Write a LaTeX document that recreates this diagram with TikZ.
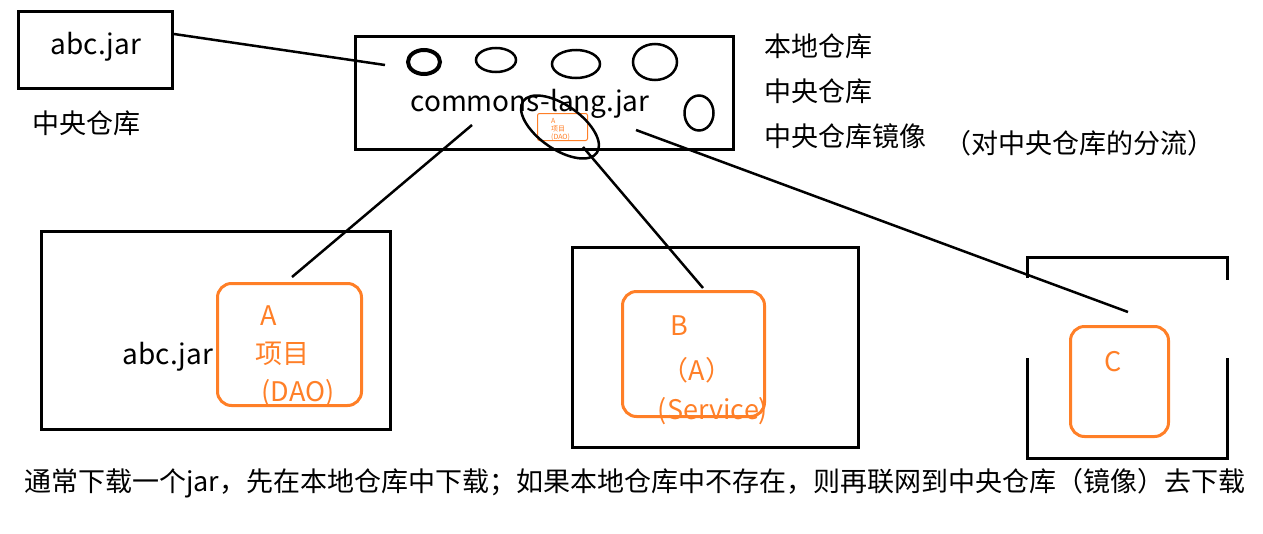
\documentclass[tikz,border=0pt]{standalone}
\usepackage{fontspec}
\usetikzlibrary{shapes.geometric}
\setmainfont{Noto Sans CJK SC}
\definecolor{orng}{RGB}{255,127,39}
\begin{document}
\begin{tikzpicture}[x=1pt,y=-1pt,
  box/.style={draw=black,line width=3pt},
  obox/.style={draw=orng,line width=3pt,rounded corners=14pt},
  lnk/.style={draw=black,line width=2.5pt},
  txt/.style={font=\fontsize{27}{31}\selectfont,inner sep=0pt},
  ltxt/.style={font=\fontsize{28}{32}\selectfont,inner sep=0pt},
  otxt/.style={txt,text=orng},
  ell/.style={draw=black,line width=2.5pt}]
\useasboundingbox (0,0) rectangle (1263,533);
% top-left box
\node[box,minimum width=154pt,minimum height=77pt,anchor=north west] (abc) at (17,10) {};
\node[ltxt] (abct) at (96,47) {abc.jar};
\node[txt] (zy) at (86,123) {中央仓库};
% central repository box
\node[box,minimum width=378pt,minimum height=113pt,anchor=north west] (repo) at (354,35) {};
\node[ell,line width=4pt,ellipse,minimum width=32pt,minimum height=24pt,inner sep=0pt] (e1) at (424,62) {};
\node[ell,ellipse,minimum width=40pt,minimum height=24pt,inner sep=0pt] (e2) at (496,60) {};
\node[ell,ellipse,minimum width=48pt,minimum height=28pt,inner sep=0pt] (e3) at (576,64) {};
\node[ell,ellipse,minimum width=44pt,minimum height=36pt,inner sep=0pt] (e4) at (655,62) {};
\node[ell,ellipse,minimum width=29pt,minimum height=35pt,inner sep=0pt] (e5) at (699,113) {};
\node[ltxt] (cl) at (530,104) {commons-lang.jar};
% small copy of A inside
\node[draw=orng,line width=1pt,rounded corners=2pt,minimum width=50pt,minimum height=27pt,anchor=north west,inner sep=0pt] (mini) at (537,113) {};
\node[text=orng,font=\fontsize{7}{8}\selectfont,align=left,inner sep=0pt,anchor=north west] (minit) at (551,118) {A\\项目\\(DAO)};
\draw[ell] (560,127) ellipse [x radius=45pt,y radius=22pt,rotate=-35];
% labels right
\node[txt,anchor=west] (l1) at (764,46) {本地仓库};
\node[txt,anchor=west] (l2) at (764,91) {中央仓库};
\node[txt,anchor=west] (l3) at (764,136) {中央仓库镜像};
\node[txt,anchor=west] (l4) at (944,143) {（对中央仓库的分流）};
% project A
\node[box,minimum width=349pt,minimum height=198pt,anchor=north west] (pa) at (40,230) {};
\node[obox,minimum width=144pt,minimum height=122pt,anchor=north west] (oa) at (216,282) {};
\node[otxt] (ta1) at (269,316) {A};
\node[otxt] (ta2) at (282,354) {项目};
\node[otxt] (ta3) at (298,393) {(DAO)};
\node[ltxt] (abc2) at (168,357) {abc.jar};
% project B
\node[box,minimum width=286pt,minimum height=200pt,anchor=north west] (pb) at (571,246) {};
\node[obox,minimum width=142pt,minimum height=125pt,anchor=north west] (ob) at (621,290) {};
\node[otxt] (tb1) at (679,326) {B};
\node[otxt] (tb2) at (697,370) {（A）};
\node[otxt] (tb3) at (713,411) {(Service)};
% project C (open frame)
\coordinate (c1) at (1027,278);
\coordinate (c2) at (1027,257);
\coordinate (c3) at (1227,257);
\coordinate (c4) at (1227,280);
\coordinate (c5) at (1027,358);
\coordinate (c6) at (1027,458);
\coordinate (c7) at (1227,458);
\coordinate (c8) at (1227,358);
\draw[line width=3pt] (c1) -- (c2) -- (c3) -- (c4);
\draw[line width=3pt] (c5) -- (c6) -- (c7) -- (c8);
\node[obox,minimum width=98pt,minimum height=110pt,anchor=north west] (oc) at (1069,325) {};
\node[otxt] (tc1) at (1113,362) {C};
% connectors
\coordinate (s0) at (174,34);
\coordinate (s1) at (385,65);
\draw[lnk] (s0) -- (s1);
\coordinate (p1) at (472,125);
\coordinate (q1) at (292,277);
\draw[lnk] (p1) -- (q1);
\coordinate (p2) at (583,147);
\coordinate (q2) at (703,288);
\draw[lnk] (p2) -- (q2);
\coordinate (p3) at (636,130);
\coordinate (q3) at (1128,312);
\draw[lnk] (p3) -- (q3);
% bottom note
\node[txt,anchor=west] (note) at (24,483) {通常下载一个jar，先在本地仓库中下载；如果本地仓库中不存在，则再联网到中央仓库（镜像）去下载};
\end{tikzpicture}
\end{document}
